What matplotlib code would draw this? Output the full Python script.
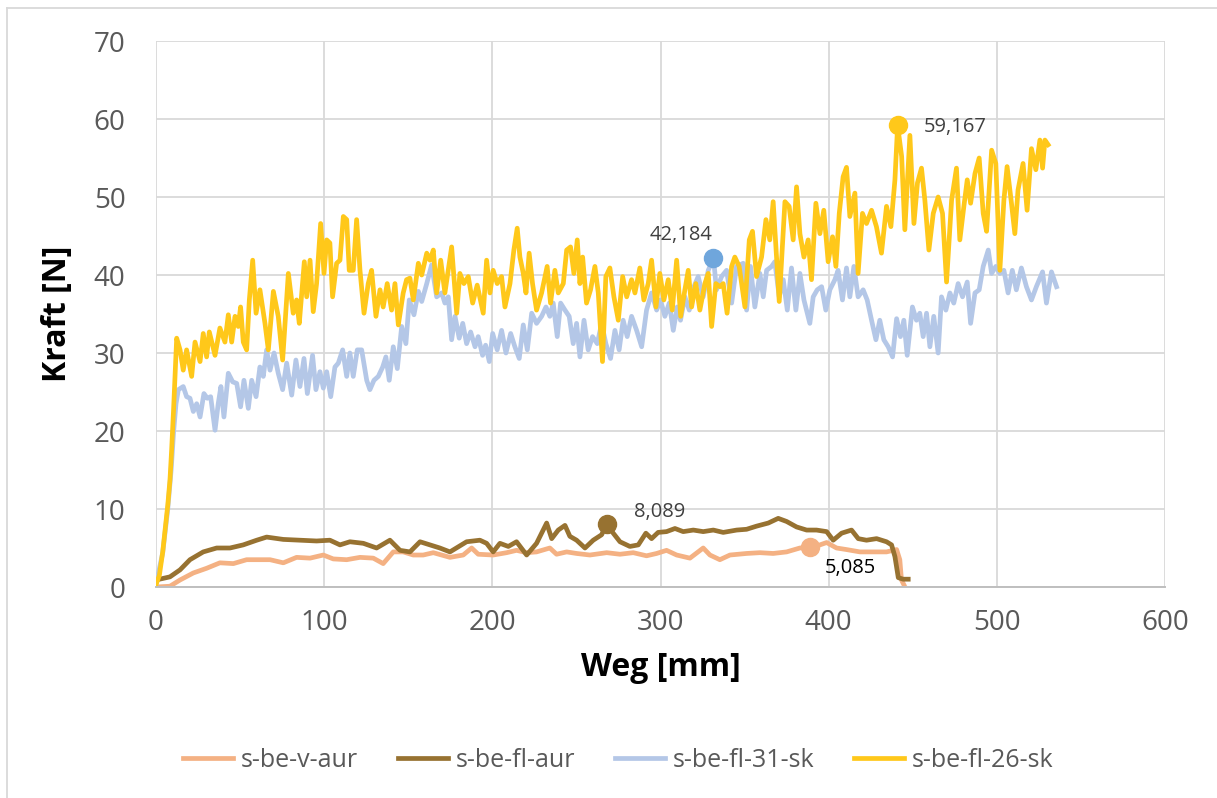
import matplotlib.pyplot as plt
from matplotlib.lines import Line2D

# s-be-v-aur (orange)
weg_v_aur = [0, 8.3, 14.3, 22.2, 30.1, 38.0, 46.0, 53.9, 61.8, 67.8, 75.7, 83.6, 91.6, 99.5,
             105.4, 113.4, 121.3, 129.2, 135.1, 141.1, 147.0, 153.0, 158.9, 164.9, 174.8, 182.7,
             187.7, 191.6, 200.5, 208.5, 214.4, 220.4, 226.3, 234.2, 238.2, 244.2, 250.1, 258.0,
             268.0, 275.9, 283.8, 291.7, 297.7, 303.6, 309.6, 317.5, 325.4, 329.4, 335.3, 341.3,
             351.2, 359.1, 367.0, 375.0, 382.9, 389.0, 394.8, 398.8, 404.7, 410.6, 418.6, 426.5,
             434.4, 440.4, 442.3, 443.3, 444.7]
kraft_v_aur = [0.0, 0.1, 0.9, 1.8, 2.4, 3.1, 3.0, 3.5, 3.5, 3.5, 3.1, 3.8, 3.7, 4.1,
               3.6, 3.5, 3.8, 3.7, 3.0, 4.5, 4.5, 4.1, 4.1, 4.4, 3.8, 4.1,
               5.0, 4.2, 4.1, 4.4, 4.7, 4.4, 4.5, 5.0, 4.2, 4.5, 4.3, 4.1,
               4.4, 4.2, 4.4, 4.0, 4.3, 4.7, 4.1, 3.7, 5.0, 4.1, 3.5, 4.1,
               4.3, 4.4, 4.3, 4.5, 5.0, 5.085, 5.4, 5.7, 5.0, 4.8, 4.5, 4.5,
               4.5, 4.8, 3.5, 0.9, 0.3]

# s-be-fl-aur (brown)
weg_fl_aur = [0, 8.3, 14.3, 20.2, 28.1, 36.1, 44.0, 51.9, 59.9, 65.8, 75.7, 85.6, 95.5, 103.4,
              109.4, 115.3, 123.3, 131.2, 139.1, 145.1, 151.0, 157.0, 162.9, 168.8, 174.8, 184.7,
              192.6, 196.6, 200.5, 204.5, 209.5, 214.4, 220.4, 226.3, 232.3, 235.3, 239.2, 243.2,
              246.1, 250.1, 255.1, 260.0, 265.0, 268.0, 271.9, 275.9, 281.8, 286.8, 291.3, 294.7,
              298.6, 303.6, 308.6, 313.5, 319.5, 325.4, 331.4, 337.3, 345.3, 351.2, 357.1, 364.1,
              370.0, 375.0, 380.9, 386.9, 392.8, 398.8, 402.7, 407.7, 413.6, 417.6, 422.5, 428.5,
              434.4, 437.4, 439.4, 441.4, 444.3, 447.3]
kraft_fl_aur = [0.9, 1.3, 2.2, 3.5, 4.5, 5.0, 5.0, 5.4, 6.0, 6.4, 6.1, 6.0, 5.9, 6.0,
                5.4, 5.8, 5.6, 5.0, 6.0, 4.7, 4.5, 5.8, 5.4, 5.0, 4.5, 5.8,
                6.0, 5.6, 4.5, 5.6, 5.2, 5.8, 4.1, 5.6, 8.2, 6.2, 7.3, 7.9,
                6.5, 6.0, 5.0, 6.0, 6.7, 8.089, 6.9, 5.8, 5.2, 5.4, 6.9, 6.2,
                7.0, 7.1, 7.5, 7.1, 7.3, 7.1, 7.3, 7.0, 7.3, 7.4, 7.8, 8.2,
                8.8, 8.4, 7.7, 7.3, 7.3, 7.1, 6.0, 6.9, 7.3, 6.2, 6.0, 6.2,
                5.8, 5.4, 3.9, 1.2, 1.0, 1.0]

# s-be-fl-31-sk (light blue)
weg_31_sk = [0, 4, 7, 9, 10.5, 11.9, 13.3, 16.2, 18.2, 20.2, 22.2, 24.2, 26.2, 28.5, 30.5, 32.5,
             35.1, 37.0, 38.6, 40.4, 43.0, 45.6, 48.0, 50.3, 52.3, 54.9, 56.9, 59.5, 61.8, 63.8,
             65.8, 67.8, 70.2, 72.7, 75.3, 77.7, 80.7, 83.2, 85.6, 88.0, 90.0, 93.1, 95.1, 97.5,
             99.5, 101.5, 103.9, 106.4, 108.4, 111.0, 113.4, 115.3, 117.3, 119.7, 122.3, 125.3,
             127.2, 129.6, 132.2, 134.8, 136.7, 138.7, 141.1, 143.5, 146.1, 148.6, 150.6, 153.4,
             156.0, 158.0, 161.0, 163.9, 166.9, 169.9, 171.8, 173.8, 175.8, 177.8, 180.3, 182.4,
             184.7, 187.1, 189.7, 191.6, 194.2, 196.0, 198.2, 200.2, 202.9, 205.5, 208.1, 210.9,
             213.4, 216.0, 218.4, 220.8, 223.4, 226.3, 229.3, 231.9, 234.2, 236.2, 238.6, 240.6,
             243.2, 245.7, 248.1, 250.1, 252.1, 254.5, 257.0, 259.6, 262.4, 265.0, 267.5, 270.3,
             272.9, 275.4, 277.8, 280.2, 282.8, 285.8, 288.8, 291.7, 294.7, 297.7, 300.0, 302.6,
             305.2, 307.6, 309.9, 311.9, 314.5, 317.1, 319.9, 322.4, 325.4, 328.4, 331.5, 333.3,
             336.3, 339.3, 342.3, 345.2, 349.2, 351.2, 353.5, 356.1, 359.1, 361.1, 363.1, 366.1,
             368.0, 370.6, 373.0, 375.4, 377.9, 380.5, 382.9, 385.3, 388.8, 390.8, 393.2, 395.8,
             398.3, 400.7, 403.7, 405.6, 408.2, 410.6, 412.6, 415.0, 417.5, 420.5, 422.9, 425.5,
             428.1, 430.4, 432.8, 435.4, 438.0, 440.4, 442.7, 444.7, 446.7, 449.8, 452.2, 454.2,
             456.2, 458.2, 460.2, 462.5, 465.1, 467.1, 469.7, 472.1, 474.4, 477.0, 479.6, 482.4,
             484.4, 487.0, 489.5, 491.9, 494.9, 496.9, 499.4, 501.8, 504.2, 506.7, 509.2, 511.6,
             514.6, 517.6, 520.6, 523.5, 527.2, 529.5, 532.5, 535.5]
kraft_31_sk = [0.3, 4.4, 10, 15, 20, 23.5, 25.3, 25.7, 24.4, 24.2, 22.5, 23.5, 21.8, 24.8, 24.2, 24.4,
               20.1, 23.5, 25.7, 21.8, 27.4, 26.3, 26.1, 23.1, 26.5, 22.9, 26.5, 24.4, 28.2, 27.0,
               30.4, 27.8, 30.0, 27.4, 25.3, 28.7, 24.6, 29.1, 25.7, 29.3, 24.8, 29.7, 25.3, 27.6,
               25.5, 27.6, 24.4, 28.2, 28.7, 30.4, 27.0, 30.0, 27.0, 30.4, 30.4, 26.5,
               25.3, 26.5, 27.0, 28.2, 29.5, 26.5, 30.8, 28.0, 33.4, 31.2, 36.8, 34.9,
               37.9, 36.6, 38.9, 41.3, 37.2, 37.7, 36.4, 37.2, 31.7, 34.7, 31.9, 33.8,
               31.2, 32.7, 30.8, 32.1, 29.7, 31.0, 28.9, 32.5, 30.4, 32.9, 30.0, 32.5,
               30.8, 29.3, 33.6, 30.4, 35.1, 33.8, 34.7, 35.9, 34.7, 36.4, 32.1, 36.4,
               35.5, 34.7, 31.2, 33.8, 29.5, 34.2, 30.4, 32.1, 31.2, 33.8, 31.2, 29.3,
               32.9, 30.4, 34.2, 32.1, 34.7, 32.9, 30.8, 35.5, 37.7, 35.5, 36.8, 34.7,
               36.4, 32.9, 35.9, 34.2, 37.2, 35.5, 38.5, 39.8, 37.2, 40.6, 42.184, 38.1,
               39.8, 40.6, 36.4, 41.1, 41.5, 35.5, 41.1, 35.9, 40.2, 37.2, 40.6, 41.1,
               41.7, 37.2, 39.4, 35.5, 40.9, 35.5, 40.2, 36.8, 33.8, 37.2, 38.1, 38.5,
               35.5, 38.1, 39.4, 40.6, 36.8, 40.9, 37.2, 41.1, 37.2, 38.1, 36.8, 34.2,
               31.7, 34.2, 31.7, 30.8, 29.5, 34.4, 32.1, 34.2, 29.7, 35.9, 34.2, 35.1,
               32.1, 35.1, 30.8, 34.7, 30.0, 37.2, 35.5, 37.7, 36.4, 38.9, 37.2, 39.1,
               33.8, 37.7, 38.1, 41.1, 43.2, 40.2, 41.1, 40.2, 40.6, 37.7, 40.6, 38.1,
               40.9, 38.5, 36.8, 38.5, 40.4, 36.4, 40.4, 38.5]

# s-be-fl-26-sk (yellow)
weg_26_sk = [0, 2, 4, 5.4, 7, 8.3, 9.3, 10.5, 11.5, 12.3, 14.3, 16.2, 18.2, 21.2, 23.2, 26.2,
             28.1, 30.1, 31.7, 35.1, 38.0, 41.0, 43.0, 45.0, 47.0, 48.9, 50.3, 51.9, 53.9, 55.5,
             57.5, 59.5, 61.8, 64.8, 66.8, 69.8, 72.7, 75.3, 78.7, 81.6, 83.6, 85.2, 88.2, 89.6,
             91.6, 93.5, 95.5, 97.9, 99.9, 101.5, 103.4, 105.0, 107.4, 109.4, 111.4, 113.4, 114.9,
             117.3, 119.3, 121.3, 123.7, 126.2, 128.2, 130.8, 133.2, 135.1, 137.5, 140.1, 142.1,
             144.1, 147.0, 149.0, 151.0, 153.0, 156.0, 158.0, 161.0, 162.9, 164.9, 166.9, 169.3,
             171.8, 175.8, 178.8, 180.7, 183.1, 185.7, 188.3, 191.0, 194.6, 196.6, 198.6, 200.5,
             202.9, 205.5, 207.5, 210.5, 212.8, 214.8, 216.4, 218.4, 220.0, 221.9, 223.9, 226.3,
             229.3, 232.6, 234.6, 237.2, 239.2, 242.2, 244.2, 246.5, 248.5, 250.5, 252.1, 253.7,
             256.0, 258.4, 261.0, 263.0, 265.5, 267.5, 269.9, 272.3, 274.9, 277.5, 279.9, 282.8,
             284.8, 287.7, 290.1, 292.7, 294.7, 297.3, 299.6, 302.0, 304.6, 307.0, 309.6, 312.0,
             314.5, 316.5, 318.5, 321.0, 323.4, 326.4, 328.4, 330.4, 332.9, 335.3, 337.3, 339.6,
             342.3, 344.2, 346.8, 350.2, 352.8, 354.7, 357.1, 360.1, 362.7, 365.0, 367.0, 370.6,
             374.0, 376.5, 378.9, 380.9, 382.9, 385.3, 387.8, 389.8, 392.4, 394.8, 397.1, 399.7,
             402.3, 404.3, 406.3, 408.6, 410.6, 412.6, 415.6, 417.5, 420.1, 422.5, 425.5, 428.4,
             431.4, 434.4, 437.0, 439.4, 441.0, 443.4, 445.3, 448.3, 450.7, 452.8, 455.2, 457.2,
             459.6, 462.2, 465.1, 467.7, 470.1, 473.1, 476.0, 478.0, 480.4, 482.4, 484.4, 487.0,
             489.5, 491.9, 493.9, 496.9, 499.4, 501.8, 504.2, 506.1, 508.7, 510.7, 512.6, 515.6,
             518.0, 520.6, 523.2, 525.6, 527.2, 528.6, 530.5]
kraft_26_sk = [0.3, 1.5, 4.5, 7.3, 10.5, 13.7, 17.6, 23, 28, 31.9, 30.4, 27.8, 30.4, 27.0, 31.4, 28.9,
               32.5, 29.5, 32.7, 29.7, 33.2, 31.4, 34.9, 31.4, 34.7, 33.4, 35.9, 31.4, 30.4, 36.8,
               41.9, 35.1, 38.1, 33.8, 30.4, 37.9, 34.7, 29.1, 40.2, 35.1, 36.8, 33.8, 41.7, 37.2,
               41.9, 35.3, 38.9, 46.6, 40.2, 44.5, 44.1, 37.2, 41.5, 41.9, 47.5, 47.1, 40.6,
               40.6, 47.1, 40.6, 35.1, 38.9, 40.6, 34.7, 38.1, 35.9, 38.9, 35.5, 38.9,
               33.6, 37.7, 39.4, 39.6, 36.8, 41.5, 40.0, 42.8, 41.9, 43.2, 37.7, 41.9,
               37.7, 43.6, 35.1, 40.2, 38.9, 39.8, 36.4, 38.7, 35.1, 41.9, 37.7, 40.6,
               38.9, 39.8, 35.9, 38.9, 43.2, 46.0, 42.3, 40.2, 37.7, 42.8, 38.9, 35.5,
               37.7, 41.1, 36.4, 40.6, 37.7, 38.9, 43.2, 43.6, 40.2, 44.5, 38.9, 42.3,
               36.4, 38.1, 41.1, 37.7, 28.9, 39.8, 40.9, 37.2, 34.2, 39.8, 37.2, 39.4,
               37.7, 40.9, 36.8, 38.9, 41.9, 35.9, 40.2, 36.8, 39.4, 35.5, 41.9, 34.7,
               38.1, 40.6, 35.9, 38.9, 35.5, 38.9, 40.2, 33.4, 38.9, 38.5, 38.9, 35.1,
               41.1, 42.3, 41.1, 35.9, 44.5, 45.6, 39.8, 42.3, 47.1, 44.5, 49.4, 36.6,
               49.4, 48.8, 44.5, 51.3, 45.3, 42.3, 44.5, 39.4, 49.2, 45.3, 48.3, 41.7,
               44.9, 41.1, 47.9, 52.6, 53.8, 47.5, 50.5, 40.2, 47.9, 46.6, 48.3, 46.2,
               42.8, 48.8, 46.2, 52.2, 59.167, 55.2, 45.8, 57.9, 46.6, 51.8, 53.7, 49.6,
               43.2, 47.9, 50.0, 47.9, 39.1, 49.6, 53.7, 44.5, 48.8, 52.2, 49.2, 53.0,
               55.0, 47.9, 45.6, 56.0, 54.3, 40.6, 49.6, 53.9, 49.2, 45.3, 50.9, 54.3,
               48.3, 56.2, 53.5, 57.3, 53.7, 57.3, 56.7]

series_names = ['s-be-v-aur', 's-be-fl-aur', 's-be-fl-31-sk', 's-be-fl-26-sk']
line_colors = ['#F4B183', '#977231', '#B4C7E7', '#FFC81A']
marker_colors = ['#F4B183', '#977231', '#6FA6DC', '#FFC81A']

# highlighted maxima (x, y, label)
peak_weg = [389.0, 268.0, 331.5, 441.0]
peak_kraft = [5.085, 8.089, 42.184, 59.167]
peak_labels = ['5,085', '8,089', '42,184', '59,167']

plt.rcParams['font.family'] = ['Open Sans', 'DejaVu Sans']

fig = plt.figure(figsize=(12.17, 7.98), dpi=100)
ax = fig.add_axes([156 / 1217, 1 - 587 / 798, (1165 - 156) / 1217, (587 - 41) / 798])

data = [(weg_v_aur, kraft_v_aur), (weg_fl_aur, kraft_fl_aur),
        (weg_31_sk, kraft_31_sk), (weg_26_sk, kraft_26_sk)]
for (xs, ys), name, col in zip(data, series_names, line_colors):
    ax.plot(xs, ys, color=col, lw=3.4, label=name, solid_joinstyle='round')

for x, y, mc in zip(peak_weg, peak_kraft, marker_colors):
    ax.plot(x, y, 'o', ms=13, color=mc, mec=mc, zorder=5)

label_pos = [(413.2, 2.5), (299.2, 9.65), (312.3, 45.1), (475.3, 59.0)]
label_cols = ['#000000', '#404040', '#404040', '#404040']
for (lx, ly), txt, lc in zip(label_pos, peak_labels, label_cols):
    ax.text(lx, ly, txt, ha='center', va='center', fontsize=14.5, color=lc)

ax.set_xlim(0, 600)
ax.set_ylim(0, 70)
ax.set_xticks(range(0, 601, 100))
ax.set_yticks(range(0, 71, 10))
ax.grid(True, color='#D9D9D9', lw=1.3)
ax.set_axisbelow(True)
for s in ['top', 'right', 'left']:
    ax.spines[s].set_visible(False)
ax.spines['bottom'].set_color('#BFBFBF')
ax.spines['bottom'].set_linewidth(1.4)
ax.tick_params(length=0, labelsize=20, colors='#595959')
ax.tick_params(axis='x', pad=16)
ax.tick_params(axis='y', pad=22)

ax.set_xlabel('Weg [mm]', fontsize=23, fontweight='bold', labelpad=10)
ax.set_ylabel('Kraft [N]', fontsize=23, fontweight='bold', labelpad=14)

fig.legend(loc='center', bbox_to_anchor=(0.508, 0.047), ncol=4, frameon=False,
           fontsize=18, handlelength=2.0, handletextpad=0.3, columnspacing=1.6,
           labelcolor='#595959')

# chart area frame
fig.add_artist(Line2D([7 / 1217, 1], [1 - 8 / 798, 1 - 8 / 798], color='#D9D9D9', lw=1.3))
fig.add_artist(Line2D([7 / 1217, 7 / 1217], [0, 1 - 8 / 798], color='#D9D9D9', lw=1.3))

fig.savefig('out.png', dpi=100)
